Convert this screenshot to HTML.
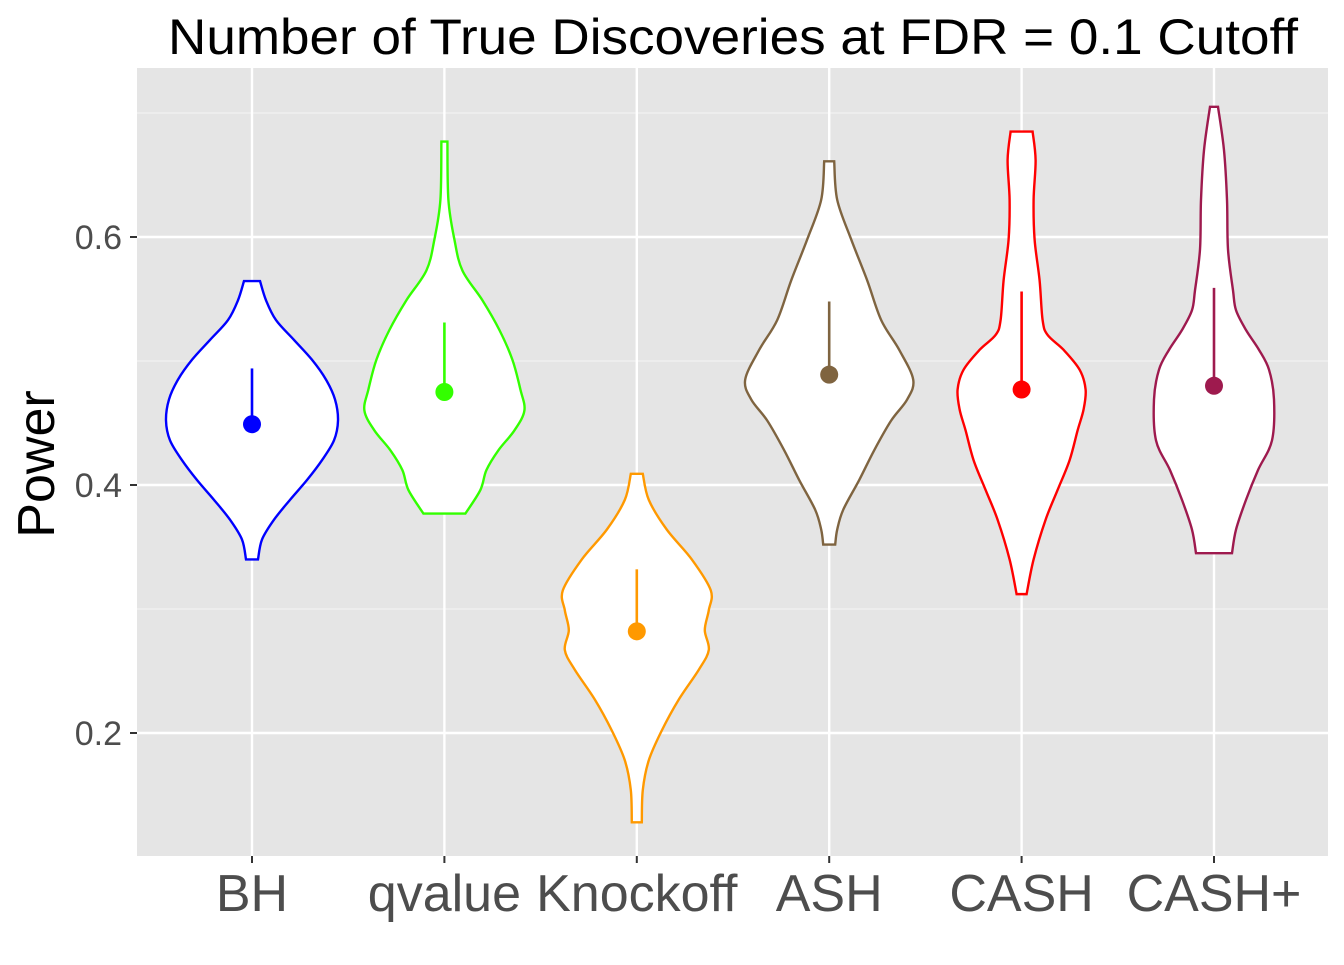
<!DOCTYPE html>
<html><head><meta charset="utf-8"><style>
body{margin:0;background:#fff}
svg text{font-family:"Liberation Sans",sans-serif}
</style></head><body>
<svg id="chart" width="1344" height="960" viewBox="0 0 1344 960">
<rect width="1344" height="960" fill="#fff"/>
<text x="733" y="54" font-size="50" text-anchor="middle" fill="#000" textLength="1130" lengthAdjust="spacingAndGlyphs">Number of True Discoveries at FDR = 0.1 Cutoff</text>
<rect x="137" y="68" width="1191" height="788" fill="#e5e5e5"/>
<g id="grid"></g>
<g id="violins"></g>
<g id="axes"></g>
<text transform="translate(54,464) rotate(-90)" font-size="52" text-anchor="middle" fill="#000">Power</text>
</svg>
<script>
const categories = ["BH","qvalue","Knockoff","ASH","CASH","CASH+"];
const colors = ["#0000ff","#33ff00","#ff9900","#7f6440","#ff0000","#9e1a4e"];
const yTicks = [0.2,0.4,0.6];
const yMinor = [0.3,0.5,0.7];
const means = [0.449,0.475,0.282,0.489,0.477,0.480];
const medians = [0.494,0.531,0.332,0.548,0.556,0.559];
const bhVals = [.5645,.549,.533,.517,.501,.485,.469,.452,.436,.420,.404,.388,.372,.356,.340];
const bhDens = [8,14,24,42,60,74,83,86,82,70,55,38,22,10,6];
const qvVals = [.677,.630,.598,.573,.549,.525,.501,.477,.460,.444,.428,.412,.396,.377];
const qvDens = [3,4,10,18,38,55,68,76,80,70,54,42,36,21];
const koVals = [.409,.388,.364,.340,.315,.299,.283,.267,.251,.227,.202,.178,.154,.128];
const koDens = [6,12,30,55,74,72,68,72,62,42,25,12,6,5];
const ashVals = [.661,.630,.598,.565,.533,.509,.485,.469,.452,.428,.404,.380,.364,.352];
const ashDens = [5,8,22,38,52,70,84,78,62,45,30,14,8,6];
const cashVals = [.685,.662,.630,.598,.565,.533,.521,.509,.493,.477,.461,.444,.420,.396,.372,.340,.312];
const cashDens = [11,14,12,13,18,21,26,42,58,64,62,56,48,36,24,12,5];
const cashpVals = [.705,.670,.630,.590,.557,.541,.525,.509,.493,.469,.436,.412,.388,.364,.345];
const cashpDens = [4,10,13,14,19,22,32,45,55,60,58,44,32,22,18];
const vals = [bhVals,qvVals,koVals,ashVals,cashVals,cashpVals];
const dens = [bhDens,qvDens,koDens,ashDens,cashDens,cashpDens];

const NS="http://www.w3.org/2000/svg";
const X0=137,X1=1328,Y0=68,Y1=856;
function y(v){return 485-(v-0.4)*1240;}
function x(i){return 252+i*192.4;}
function mk(t,a,p){const e=document.createElementNS(NS,t);for(const k in a)e.setAttribute(k,a[k]);p.appendChild(e);return e;}
const grid=document.getElementById('grid'),vg=document.getElementById('violins'),ax=document.getElementById('axes');
yMinor.forEach(v=>{const l=mk('line',{x1:X0,x2:X1,y1:y(v),y2:y(v),stroke:'#f2f2f2','stroke-width':1.2},grid);

});
yTicks.forEach(v=>{const l=mk('line',{x1:X0,x2:X1,y1:y(v),y2:y(v),stroke:'#fff','stroke-width':2.4},grid);


const t=mk('line',{x1:130,x2:137,y1:y(v),y2:y(v),stroke:'#333','stroke-width':2},ax);


const tx=mk('text',{x:122,y:y(v)+12,'font-size':34,'text-anchor':'end',fill:'#4d4d4d'},ax);tx.textContent=v.toFixed(1);

});
function smooth(pts){let d='M'+pts[0][0]+','+pts[0][1];
for(let i=0;i<pts.length-1;i++){const p0=pts[Math.max(0,i-1)],p1=pts[i],p2=pts[i+1],p3=pts[Math.min(pts.length-1,i+2)];
const c1=[p1[0]+(p2[0]-p0[0])/6,p1[1]+(p2[1]-p0[1])/6],c2=[p2[0]-(p3[0]-p1[0])/6,p2[1]-(p3[1]-p1[1])/6];
d+=' C'+c1[0]+','+c1[1]+' '+c2[0]+','+c2[1]+' '+p2[0]+','+p2[1];}return d;}
categories.forEach((c,i)=>{const cx=x(i);
const gl=mk('line',{x1:cx,x2:cx,y1:Y0,y2:Y1,stroke:'#fff','stroke-width':2.4},grid);


const R=vals[i].map((v,k)=>[cx+dens[i][k],y(v)]);
const L=vals[i].map((v,k)=>[cx-dens[i][k],y(v)]).reverse();
let d=smooth(R)+' L'+L[0][0]+','+L[0][1]+smooth(L).replace(/^M[^C]*/,' ')+' Z';
const p=mk('path',{d:d,fill:'#fff',stroke:colors[i],'stroke-width':2.4},vg);


const ml=mk('line',{x1:cx,x2:cx,y1:y(means[i]),y2:y(medians[i]),stroke:colors[i],'stroke-width':2.6},vg);


const pt=mk('circle',{cx:cx,cy:y(means[i]),r:9,fill:colors[i]},vg);


const t=mk('line',{x1:cx,x2:cx,y1:856,y2:863,stroke:'#333','stroke-width':2},ax);


const tx=mk('text',{x:cx,y:911,'font-size':52,'text-anchor':'middle',fill:'#4d4d4d'},ax);tx.textContent=c;

});
</script>
</body></html>
